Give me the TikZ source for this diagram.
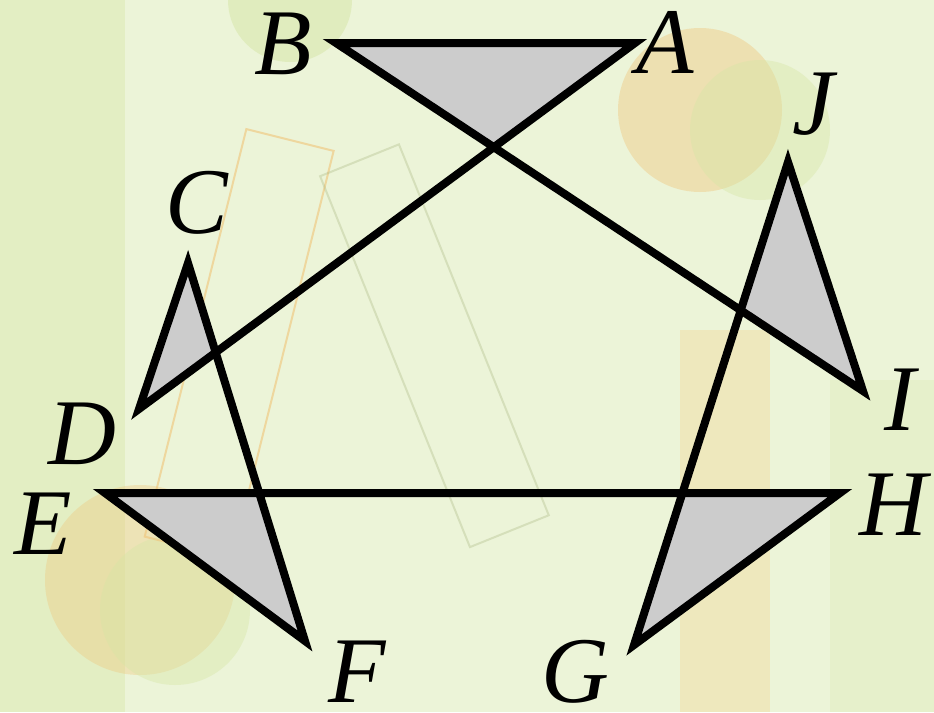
\documentclass[tikz,border=0pt]{standalone}
\usepackage{fontspec}
\setmainfont{Liberation Serif}[ItalicFont={Liberation Serif Italic}]
\usetikzlibrary{calc}
\definecolor{bgbase}{RGB}{236,244,216}
\definecolor{bglime}{RGB}{214,230,165}
\definecolor{bgorange}{RGB}{240,196,120}
\definecolor{bgstrip}{RGB}{242,214,150}
\definecolor{shade}{RGB}{204,204,204}
\tikzset{
  edge/.style={line width=8pt, line join=miter, draw=black},
  tri/.style={fill=shade},
  lbl/.style={inner sep=0pt, font=\fontsize{94}{94}\selectfont\itshape},
}
\begin{document}
\begin{tikzpicture}[x=1pt,y=-1pt]
\useasboundingbox (0,0) rectangle (934,712);
% background
\fill[bgbase] (0,0) rectangle (934,712);
\fill[bglime,opacity=0.4] (0,0) rectangle (125,712);
\fill[bglime,opacity=0.25] (830,380) rectangle (934,712);
\fill[bgstrip,opacity=0.4] (680,330) rectangle (770,712);
\fill[bgorange,opacity=0.4] (700,110) circle (82);
\fill[bglime,opacity=0.4] (760,130) circle (70);
\fill[bgorange,opacity=0.35] (140,580) circle (95);
\fill[bglime,opacity=0.4] (175,610) circle (75);
\fill[bglime,opacity=0.5] (290,0) circle (62);
\draw[bgorange,line width=2pt,opacity=0.6,rotate around={-14:(290,140)}] (245,140) rectangle (335,560);
\draw[bglime!80!black,line width=2pt,opacity=0.35,rotate around={22:(420,330)}] (385,150) rectangle (470,550);
% named points
\coordinate (A) at (635,43);
\coordinate (B) at (336,43);
\coordinate (C) at (188,263);
\coordinate (D) at (139,409);
\coordinate (E) at (105,493);
\coordinate (F) at (305,641);
\coordinate (G) at (634,645);
\coordinate (H) at (840,493);
\coordinate (I) at (863,391);
\coordinate (J) at (788,162);
% crossings
\coordinate (X) at (intersection of A--D and B--I);
\coordinate (Q) at (intersection of A--D and C--F);
\coordinate (P) at (intersection of B--I and J--G);
\coordinate (R) at (intersection of E--H and C--F);
\coordinate (S) at (intersection of E--H and J--G);
% shaded triangles
\fill[tri] (B) -- (A) -- (X) -- cycle;
\fill[tri] (C) -- (Q) -- (D) -- cycle;
\fill[tri] (J) -- (I) -- (P) -- cycle;
\fill[tri] (E) -- (R) -- (F) -- cycle;
\fill[tri] (S) -- (H) -- (G) -- cycle;
% outline
\draw[edge] (A) -- (B) -- (I) -- (J) -- (G) -- (H) -- (E) -- (F) -- (C) -- (D) -- cycle;
% labels
\node[lbl] (lA) at (665,42) {A};
\node[lbl] (lB) at (283,44) {B};
\node[lbl] (lC) at (197,203) {C};
\node[lbl] (lD) at (82,434) {D};
\node[lbl] (lE) at (43,524) {E};
\node[lbl] (lF) at (357,672) {F};
\node[lbl] (lG) at (575,672) {G};
\node[lbl] (lH) at (893,505) {H};
\node[lbl] (lI) at (900,400) {I};
\node[lbl] (lJ) at (813,104) {J};
\end{tikzpicture}
\end{document}
